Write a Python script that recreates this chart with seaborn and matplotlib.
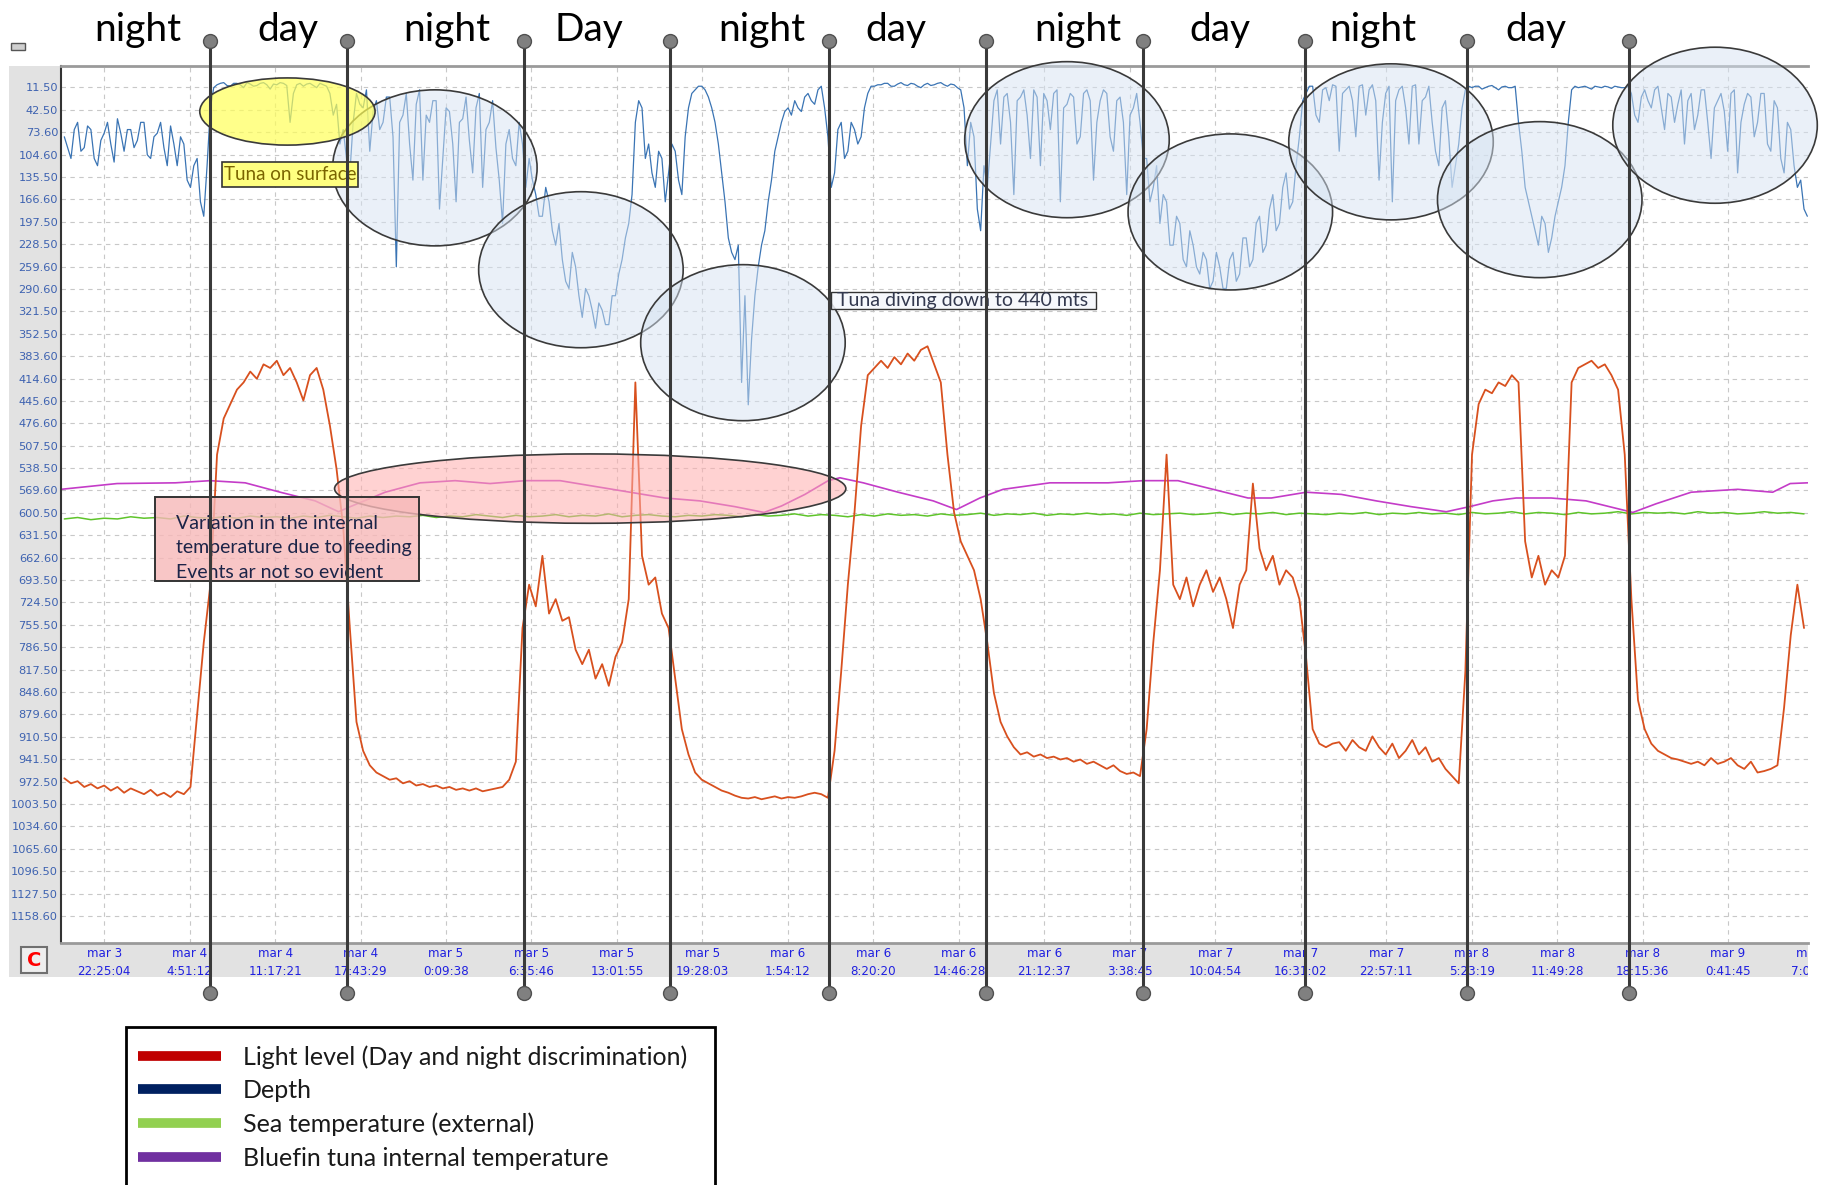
import numpy as np
import matplotlib
matplotlib.use("Agg")
import matplotlib.pyplot as plt
import seaborn as sns
from matplotlib.patches import Ellipse, Rectangle
from matplotlib.lines import Line2D
from matplotlib.transforms import Bbox, TransformedBbox

### data: time in hours after mar 3 22:25:04, every series on the depth scale
depth_start, depth_step = -3.0, 0.25
depth_m = [80, 95, 110, 70, 60, 100, 95, 65, 70, 110, 120, 85, 75, 60, 90, 115, 55, 75, 100, 70,
           70, 95, 85, 60, 60, 105, 110, 80, 75, 60, 95, 120, 65, 90, 120, 80, 90, 140, 150, 120,
           110, 170, 190, 120, 40, 12, 8, 6, 5, 9, 10, 6, 6, 8, 12, 5, 7, 10, 9, 6,
           5, 8, 14, 7, 8, 5, 6, 9, 60, 20, 8, 6, 10, 7, 6, 9, 12, 6, 8, 10,
           20, 50, 35, 90, 70, 110, 131, 60, 20, 35, 40, 15, 100, 45, 30, 70, 60, 25, 25, 80,
           260, 60, 50, 20, 90, 140, 35, 15, 140, 50, 60, 30, 30, 180, 110, 40, 45, 90, 170, 60,
           55, 25, 85, 130, 40, 20, 150, 70, 60, 30, 95, 140, 200, 90, 70, 110, 120, 60, 90, 150,
           110, 140, 160, 190, 190, 150, 170, 210, 230, 200, 250, 280, 290, 240, 260, 300, 330, 290, 300, 320,
           345, 310, 320, 340, 340, 300, 300, 270, 250, 220, 200, 160, 60, 30, 40, 110, 90, 130, 150, 100,
           110, 170, 130, 90, 100, 140, 160, 80, 40, 20, 15, 10, 10, 15, 25, 40, 60, 90, 130, 170,
           220, 240, 250, 230, 420, 300, 451, 360, 300, 260, 230, 210, 170, 140, 100, 80, 60, 45, 40, 50,
           30, 40, 45, 25, 20, 30, 35, 15, 10, 40, 80, 150, 130, 70, 60, 110, 100, 60, 70, 90,
           80, 40, 20, 10, 10, 8, 8, 6, 6, 10, 10, 7, 5, 8, 9, 6, 7, 10, 12, 8,
           6, 9, 8, 6, 5, 8, 10, 7, 8, 12, 15, 40, 120, 60, 80, 180, 210, 120, 150, 90,
           30, 15, 90, 25, 20, 60, 160, 30, 25, 15, 50, 110, 15, 25, 120, 20, 30, 70, 20, 15,
           170, 40, 35, 20, 25, 90, 80, 20, 15, 30, 140, 60, 30, 15, 20, 80, 100, 30, 25, 60,
           160, 50, 40, 20, 60, 110, 110, 170, 150, 120, 200, 160, 170, 230, 230, 190, 200, 250, 260, 210,
           230, 260, 270, 240, 250, 290, 280, 240, 260, 290, 290, 250, 240, 280, 270, 220, 220, 260, 250, 200,
           190, 240, 230, 180, 160, 210, 200, 150, 130, 180, 170, 120, 80, 30, 20, 10, 10, 50, 60, 15,
           12, 30, 8, 10, 100, 20, 15, 10, 30, 80, 10, 8, 50, 15, 8, 30, 140, 60, 20, 10,
           170, 30, 15, 10, 40, 90, 10, 8, 90, 30, 25, 10, 60, 100, 120, 40, 30, 80, 150, 120,
           90, 40, 15, 10, 12, 10, 10, 14, 12, 10, 9, 12, 15, 11, 10, 12, 12, 10, 60, 100,
           150, 170, 190, 210, 230, 190, 200, 240, 220, 190, 170, 150, 120, 60, 15, 10, 12, 11, 10, 12,
           14, 10, 11, 12, 10, 11, 13, 10, 11, 12, 12, 10, 20, 50, 60, 25, 15, 30, 40, 15,
           10, 40, 70, 20, 25, 60, 35, 15, 90, 30, 20, 70, 50, 15, 15, 60, 110, 40, 30, 20,
           45, 100, 20, 15, 130, 60, 35, 20, 25, 80, 60, 20, 20, 90, 100, 30, 40, 110, 130, 60,
           70, 120, 150, 140, 180, 190]

light_start, light_step = -3.0, 0.5
light_level = [968, 975, 972, 980, 976, 982, 978, 985, 980, 988,
               982, 986, 990, 984, 992, 988, 994, 986, 990, 980,
               880, 780, 700, 520, 470, 450, 430, 420, 405, 415,
               395, 400, 390, 410, 400, 420, 445, 410, 400, 430,
               480, 540, 620, 760, 890, 930, 950, 960, 965, 970,
               968, 975, 972, 978, 976, 980, 978, 982, 980, 984,
               982, 985, 982, 986, 984, 982, 980, 970, 945, 760,
               700, 730, 660, 740, 720, 750, 745, 790, 810, 790,
               830, 810, 840, 800, 780, 720, 420, 660, 700, 690,
               740, 760, 830, 900, 935, 960, 970, 975, 980, 985,
               988, 992, 995, 996, 994, 997, 995, 993, 996, 994,
               995, 993, 990, 988, 990, 995, 930, 820, 700, 600,
               480, 410, 400, 390, 400, 385, 395, 380, 390, 375,
               370, 395, 420, 520, 600, 640, 660, 680, 720, 780,
               850, 890, 910, 925, 935, 932, 938, 935, 940, 938,
               942, 940, 945, 942, 948, 945, 950, 955, 950, 958,
               962, 960, 965, 900, 780, 680, 520, 700, 720, 690,
               730, 700, 680, 710, 690, 720, 760, 700, 680, 560,
               650, 680, 660, 700, 680, 690, 720, 800, 900, 920,
               925, 920, 918, 930, 915, 925, 930, 910, 925, 935,
               920, 940, 930, 915, 935, 925, 945, 940, 955, 965,
               975, 820, 520, 450, 430, 435, 420, 425, 410, 420,
               640, 690, 660, 700, 680, 690, 660, 420, 400, 395,
               390, 400, 395, 410, 430, 520, 720, 860, 900, 920,
               930, 935, 940, 942, 945, 948, 945, 950, 940, 948,
               945, 940, 950, 955, 945, 960, 958, 955, 950, 870,
               770, 700, 760]

sea_start, sea_step = -3.0, 1.0
sea_temp = [609, 607, 610, 608, 609, 606, 608, 607, 609, 605, 607, 608,
            606, 608, 605, 607, 606, 608, 605, 607, 604, 606, 608, 605,
            607, 605, 606, 604, 607, 605, 606, 603, 605, 607, 604, 606,
            605, 603, 606, 604, 605, 602, 606, 604, 603, 605, 606, 604,
            605, 603, 604, 606, 603, 605, 604, 602, 605, 603, 604, 606,
            603, 605, 602, 604, 603, 605, 602, 604, 603, 601, 604, 602,
            603, 601, 604, 602, 603, 601, 603, 602, 604, 601, 603, 602,
            601, 603, 602, 600, 603, 601, 602, 600, 603, 601, 602, 603,
            601, 602, 600, 603, 601, 602, 600, 602, 601, 603, 600, 602,
            601, 599, 602, 600, 601, 603, 600, 602, 601, 599, 602, 600,
            601, 600, 602, 599, 601, 600, 602, 601, 599, 601, 600, 602]

internal_hours = [-3.25, 0.97, 5.36, 7.99, 10.62, 13.26, 15.89, 17.65, 18.53, 21.16,
                  23.79, 26.43, 29.06, 31.70, 34.33, 36.96, 39.60, 42.23, 44.86, 47.50,
                  49.69, 51.01, 52.77, 54.52, 55.40, 57.16, 59.79, 62.43, 64.18, 65.94,
                  67.69, 71.21, 75.60, 78.23, 80.86, 83.50, 86.13, 87.89, 90.52, 93.16,
                  95.79, 98.42, 101.06, 102.81, 104.57, 106.33, 108.96, 111.59, 114.23, 115.11,
                  116.86, 119.50, 123.01, 125.64, 126.96, 128.28]
internal_temp = [568, 560, 559, 556, 559, 572, 584, 599, 592, 572,
                 559, 556, 560, 556, 556, 564, 572, 580, 584, 592,
                 600, 591, 575, 556, 552, 559, 572, 584, 596, 580,
                 568, 559, 559, 556, 556, 568, 580, 580, 572, 575,
                 584, 592, 599, 592, 584, 580, 580, 584, 596, 600,
                 588, 572, 568, 572, 560, 559]

y_tick_labels = ["11.50", "42.50", "73.60", "104.60", "135.50", "166.60", "197.50",
                 "228.50", "259.60", "290.60", "321.50", "352.50", "383.60", "414.60",
                 "445.60", "476.60", "507.50", "538.50", "569.60", "600.50", "631.50",
                 "662.60", "693.50", "724.50", "755.50", "786.50", "817.50", "848.60",
                 "879.60", "910.50", "941.50", "972.50", "1003.50", "1034.60", "1065.60",
                 "1096.50", "1127.50", "1158.60"]
x_tick_days = [3, 4, 4, 4, 5, 5, 5, 5, 6, 6, 6, 6, 7, 7, 7, 7, 8, 8, 8, 9, 9]
x_tick_times = ["22:25:04", "4:51:12", "11:17:21", "17:43:29", "0:09:38", "6:35:46",
                "13:01:55", "19:28:03", "1:54:12", "8:20:20", "14:46:28", "21:12:37",
                "3:38:45", "10:04:54", "16:31:02", "22:57:11", "5:23:19", "11:49:28",
                "18:15:36", "0:41:45", "7:07:53"]

phase_bounds = [8.0, 18.3, 31.6, 42.6, 54.6, 66.4, 78.2, 90.4, 102.6, 114.8]
phase_names = ["night", "day", "night", "Day", "night", "day", "night", "day", "night", "day"]
phase_label_hours = [2.5, 13.8, 25.8, 36.5, 49.5, 59.6, 73.3, 84.0, 95.5, 107.8]

circled_hours = [24.9, 35.9, 48.1, 72.5, 84.8, 96.9, 108.1, 121.3]
circled_depth = [123, 264, 365, 84, 184, 87, 167, 64]

legend_labels = ["Light level (Day and night discrimination)", "Depth",
                 "Sea temperature (external)", "Bluefin tuna internal temperature"]
legend_colors = ["#c00000", "#002060", "#92d050", "#7030a0"]

assert len(depth_m) == 526 and len(light_level) == 263 and len(sea_temp) == 132

depth_hours = depth_start + depth_step * np.arange(len(depth_m))
light_hours = light_start + light_step * np.arange(len(light_level))
sea_hours = sea_start + sea_step * np.arange(len(sea_temp))

def to_hours(day, t):
    h, m, s = [int(v) for v in t.split(":")]
    return (day - 3) * 24 + h + m / 60 + s / 3600

t0 = to_hours(x_tick_days[0], x_tick_times[0])
x_ticks = [to_hours(d, t) - t0 for d, t in zip(x_tick_days, x_tick_times)]
x_labels = ["mar %d\n%s" % (d, t) for d, t in zip(x_tick_days, x_tick_times)]

sns.set_style("white")
plt.rcParams['font.family'] = ['DejaVu Sans']
ann_font = ['Lato', 'DejaVu Sans']

W, H = 1829, 1185
fig = plt.figure(figsize=(W / 100, H / 100), dpi=100)
fig.patch.set_facecolor("white")

# gray window panel behind the plot
fig.add_artist(Rectangle((9 / W, 1 - 977 / H), 1799 / W, 911 / H, transform=fig.transFigure,
                         facecolor="#e2e2e2", edgecolor="none", zorder=-5))
fig.add_artist(Rectangle((11 / W, 1 - 50 / H), 14 / W, 7 / H, transform=fig.transFigure,
                         facecolor="#cfcfcf", edgecolor="#555555", lw=1))
fig.add_artist(Rectangle((21 / W, 1 - 973 / H), 26 / W, 26 / H, transform=fig.transFigure,
                         facecolor="#eeeeee", edgecolor="#707070", lw=1.5))
fig.text(34 / W, 1 - 960 / H, "C", color="red", fontsize=14, fontweight="bold",
         ha="center", va="center")

ax = fig.add_axes([61 / W, 1 - 943 / H, 1747 / W, 877 / H])
ax.set_facecolor("white")

sns.lineplot(x=sea_hours, y=sea_temp, ax=ax, color="#5ec42a", linewidth=1.1, zorder=2)
sns.lineplot(x=internal_hours, y=internal_temp, ax=ax, color="#c43cc8", linewidth=1.2, zorder=2)
sns.lineplot(x=light_hours, y=light_level, ax=ax, color="#d8501e", linewidth=1.3, zorder=3)
sns.lineplot(x=depth_hours, y=depth_m, ax=ax, color="#3a74b4", linewidth=0.9, zorder=3)

ax.set_xlim(-3.25, 128.3)
ax.set_ylim(1196, -18)
ax.set_yticks([float(s) for s in y_tick_labels])
ax.set_yticklabels(y_tick_labels)
ax.set_xticks(x_ticks[:-1])
ax.set_xticklabels(x_labels[:-1], linespacing=1.5)
ax.tick_params(axis="y", length=0, pad=2, labelsize=8.2, labelcolor="#3d62b0")
ax.tick_params(axis="x", length=0, pad=3, labelsize=8.6, labelcolor="#2020e0")
ax.grid(True, color="#c8c8c8", linestyle=(0, (4, 4)), linewidth=0.8)
ax.set_xlabel("")
ax.set_ylabel("")
for side in ["top", "bottom"]:
    ax.spines[side].set_color("#9a9a9a")
    ax.spines[side].set_linewidth(2)
ax.spines["left"].set_color("#333333")
ax.spines["left"].set_linewidth(1.5)
ax.spines["right"].set_visible(False)

# last tick label, cut by the window edge
last = ax.annotate(x_labels[-1], xy=(x_ticks[-1], 0), xycoords=("data", "axes fraction"),
                   xytext=(0, -3), textcoords="offset points", ha="center", va="top",
                   fontsize=8.6, color="#2020e0", linespacing=1.5, annotation_clip=False)
last.set_clip_on(True)
last.set_clip_box(TransformedBbox(Bbox([[0, 0], [1808 / W, 1]]), fig.transFigure))

# circled events
for h, d in zip(circled_hours, circled_depth):
    ax.add_patch(Ellipse((h, d), 15.4, 216, facecolor=(0.84, 0.89, 0.95, 0.5),
                         edgecolor="#3a3a3a", lw=1.2, zorder=4, clip_on=False))
ax.add_patch(Ellipse((13.8, 45), 13.2, 93, facecolor=(1.0, 1.0, 0.35, 0.7),
                     edgecolor="#3a3a3a", lw=1.2, zorder=4, clip_on=False))
ax.add_patch(Ellipse((36.6, 567), 38.5, 96, facecolor=(1.0, 0.68, 0.68, 0.55),
                     edgecolor="#3a3a3a", lw=1.2, zorder=4))

# text boxes
ax.add_patch(Rectangle((8.9, 115.5), 10.2, 33.6, facecolor="#ffff80",
                       edgecolor="#333333", lw=1.2, zorder=5))
ax.text(14.0, 132, "Tuna on surface", family=ann_font, fontsize=13.5, color="#7a6400",
        ha="center", va="center", zorder=5)

ax.add_patch(Rectangle((54.7, 294.7), 20.0, 24.0, facecolor=(0.96, 0.97, 0.99, 0.85),
                       edgecolor="#333333", lw=1.0, zorder=5))
ax.text(55.2, 306.7, "Tuna diving down to 440 mts", family=ann_font, fontsize=14,
        color="#33394f", ha="left", va="center", zorder=5)

ax.add_patch(Rectangle((3.86, 578), 19.84, 117, facecolor=(0.97, 0.72, 0.72, 0.8),
                       edgecolor="#333333", lw=1.4, zorder=5))
ax.text(5.4, 603, "Variation in the internal\ntemperature due to feeding\nEvents ar not so evident",
        family=ann_font, fontsize=14, color="#1c2448", ha="left", va="top",
        linespacing=1.55, zorder=5)

# day / night boundaries
xtr = ax.get_xaxis_transform()
for h in phase_bounds:
    ax.plot([h, h], [1.0285, -0.057], transform=xtr, color="#3a3a3a", lw=2.2,
            clip_on=False, zorder=6)
    ax.plot([h, h], [1.0285, -0.057], transform=xtr, linestyle="none", marker="o",
            markersize=10, markerfacecolor="#808080", markeredgecolor="#505050",
            clip_on=False, zorder=7)
for h, name in zip(phase_label_hours, phase_names):
    ax.text(h, 1.041, name, transform=xtr, ha="center", va="center",
            family=ann_font, fontsize=28, color="black")

# legend
fig.add_artist(Rectangle((126 / W, -0.05), 589 / W, 1 - 1027 / H + 0.05,
                         transform=fig.transFigure, facecolor="white",
                         edgecolor="black", lw=2))
handles = [Line2D([], [], color=c, lw=7, solid_capstyle="butt") for c in legend_colors]
fig.legend(handles, legend_labels, loc="upper left", bbox_to_anchor=(138 / W, 1 - 1045 / H),
           frameon=False, prop={"family": ann_font, "size": 18}, handlelength=3.3,
           handletextpad=0.9, labelspacing=0.42, borderaxespad=0, borderpad=0,
           labelcolor="#1a1a1a")

fig.savefig("out.png", dpi=100)
